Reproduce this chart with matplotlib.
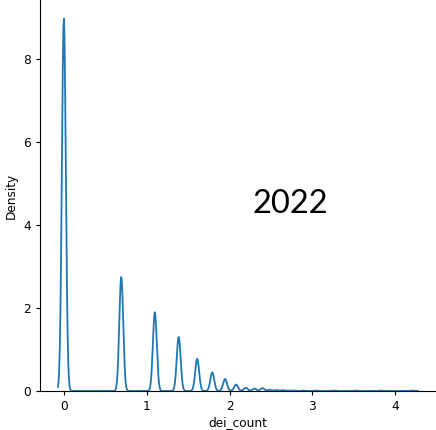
import numpy as np
import matplotlib
matplotlib.use("Agg")
import matplotlib.pyplot as plt
import seaborn as sns

# raw counts (before log1p transform) and their frequencies
counts = [0, 1, 2, 3, 4, 5, 6, 7, 8, 9, 10, 11, 12, 13, 14, 15, 17, 20, 25, 33, 45, 66]
freqs = [925, 283, 195, 134, 80, 46, 30, 16, 8, 6, 7, 3, 2, 2, 1, 1, 1, 1, 1, 1, 1, 1]
x_label = "dei_count"
y_label = "Density"
annotation = "2022"

values = np.repeat(np.log1p(np.array(counts, dtype=float)), freqs)

target_bw = 0.0235

fig = plt.figure(figsize=(4.36, 4.30), dpi=100)
ax = fig.add_axes([40 / 436, 39 / 430, 396 / 436, 391 / 430])
sns.kdeplot(x=values, bw_method=target_bw / values.std(ddof=1), gridsize=600,
            ax=ax, color="#1f77b4", linewidth=1.3)
ax.spines["top"].set_visible(False)
ax.spines["right"].set_visible(False)
ax.set_xlabel(x_label, fontsize=8.7, labelpad=2)
ax.set_ylabel(y_label, fontsize=8.7)
ax.tick_params(labelsize=8.7, length=3)
ax.set_xticks([0, 1, 2, 3, 4])
ax.set_yticks([0, 2, 4, 6, 8])

fig.text(290 / 436, 1 - 204 / 430, annotation, fontsize=23.5,
         family=["Lato", "DejaVu Sans"], ha="center", va="center")

fig.savefig("out.png", dpi=100)
